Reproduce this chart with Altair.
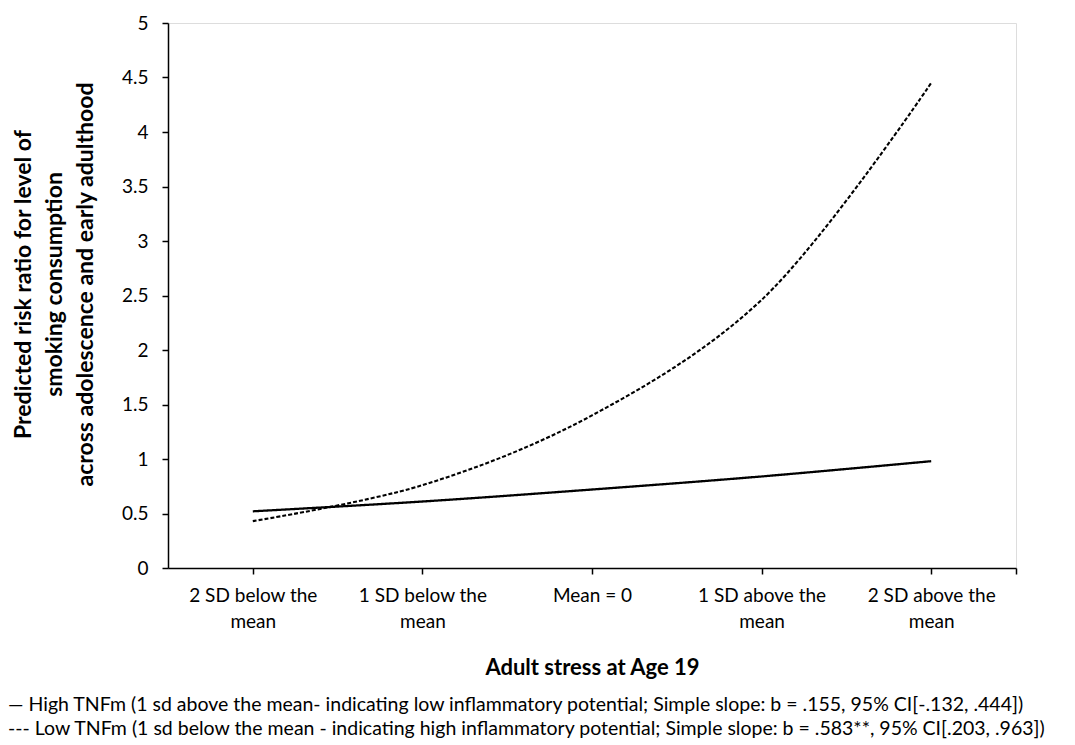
import altair as alt
import pandas as pd

# ---- data ----
stress_sd = [-2, -1, 0, 1, 2]
cat_line1 = ["2 SD below the", "1 SD below the", "Mean = 0", "1 SD above the", "2 SD above the"]
cat_line2 = ["mean", "mean", "", "mean", "mean"]

high_tnfm = [0.52, 0.61, 0.72, 0.84, 0.98]
low_tnfm = [0.43, 0.76, 1.40, 2.46, 4.45]

series_names = ["High TNFm", "Low TNFm"]

y_ticks = [0, 0.5, 1, 1.5, 2, 2.5, 3, 3.5, 4, 4.5, 5]

y_title = [
    "Predicted risk ratio  for level of",
    "smoking consumption",
    "across adolescence and early adulthood",
]
x_title = "Adult stress at Age 19"
legend_lines = [
    "\u2014 High TNFm (1 sd above the mean- indicating low inflammatory potential; Simple slope: b = .155, 95% CI[-.132, .444])",
    "--- Low TNFm (1 sd below the mean -  indicating high inflammatory potential; Simple slope: b = .583**, 95% CI[.203, .963])",
]

rows = []
for name, vals in zip(series_names, [high_tnfm, low_tnfm]):
    for x, v in zip(stress_sd, vals):
        rows.append({"series": name, "stress": x, "rr": v})
df = pd.DataFrame(rows)

# label expression: two-line category labels, blank for the end tick
parts = []
for x, l1, l2 in zip(stress_sd, cat_line1, cat_line2):
    arr = f"['{l1}','{l2}']" if l2 else f"'{l1}'"
    parts.append(f"datum.value == {x} ? {arr}")
label_expr = " : ".join(parts) + " : ''"

FONT = "Lato"

chart = (
    alt.Chart(df)
    .mark_line(interpolate="catmull-rom", color="black")
    .encode(
        x=alt.X(
            "stress:Q",
            scale=alt.Scale(domain=[-2.5, 2.5], nice=False, zero=False),
            axis=alt.Axis(
                values=stress_sd + [2.5],
                labelExpr=label_expr,
                grid=False,
                domainColor="black",
                domainWidth=1.5,
                tickColor="black",
                tickWidth=1.5,
                tickSize=6,
                labelPadding=12,
                labelFont=FONT,
                labelFontSize=19,
                labelColor="black",
                labelLineHeight=26,
                labelBaseline="top",
                title=x_title,
                titleFont=FONT,
                titleFontSize=22,
                titleFontWeight="bold",
                titleColor="black",
                titleBaseline="alphabetic",
                titleY=106,
            ),
        ),
        y=alt.Y(
            "rr:Q",
            scale=alt.Scale(domain=[0, 5], nice=False),
            axis=alt.Axis(
                values=y_ticks,
                format="~g",
                grid=False,
                domainColor="black",
                domainWidth=1.5,
                tickColor="black",
                tickWidth=1.5,
                tickSize=6,
                labelPadding=14,
                labelFont=FONT,
                labelFontSize=19,
                labelColor="black",
                title=y_title,
                titleFont=FONT,
                titleFontSize=23,
                titleFontWeight="bold",
                titleColor="black",
                titleLineHeight=31,
                titleX=-133,
                titleY=261,
            ),
        ),
        strokeDash=alt.StrokeDash(
            "series:N",
            scale=alt.Scale(domain=series_names, range=[[1, 0], [4, 2]]),
            legend=None,
        ),
        strokeWidth=alt.StrokeWidth(
            "series:N",
            scale=alt.Scale(domain=series_names, range=[2.3, 2.1]),
            legend=None,
        ),
    )
    .properties(
        width=848,
        height=545,
        autosize=alt.AutoSizeParams(type="none"),
        padding={"left": 160, "top": 15, "right": 50, "bottom": 175},
        title=alt.TitleParams(
            text=legend_lines,
            orient="bottom",
            anchor="start",
            frame="bounds",
            font=FONT,
            fontSize=19.5,
            fontWeight="normal",
            color="black",
            lineHeight=24,
            offset=18,
            dx=-4,
        ),
    )
    .configure_view(stroke=None)
    .configure(background="white")
)

chart.save("out.html", embed_options={"renderer": "svg", "actions": False})
